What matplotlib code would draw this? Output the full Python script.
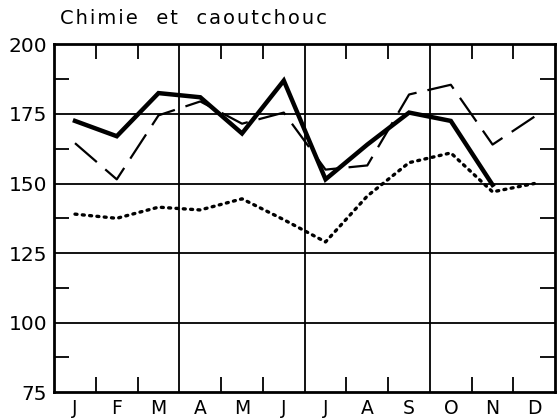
import matplotlib.pyplot as plt
import numpy as np

plt.rcParams["font.family"] = ["DejaVu Sans"]

months = ["J", "F", "M", "A", "M", "J", "J", "A", "S", "O", "N", "D"]
serie_epaisse = [172.5, 167, 182.5, 181, 168, 187, 151.5, 164, 175.5, 172.5, 149.5, np.nan]
serie_tirets = [164.5, 151.5, 174.5, 179.5, 171.5, 175.5, 155, 156.5, 182, 185.5, 164, 174]
serie_points = [139, 137.5, 141.5, 140.5, 144.5, 137, 129, 145.5, 157.5, 161, 147, 150]

x = np.arange(len(months)) + 0.5

fig = plt.figure(figsize=(5.58, 4.19), dpi=100)
ax = fig.add_axes([0.097, 0.064, 0.898, 0.830])

for v in [100, 125, 150, 175]:
    ax.axhline(v, color="black", lw=1.3, zorder=1)
for v in [3, 6, 9]:
    ax.axvline(v, color="black", lw=1.3, zorder=1)

ax.plot(x, serie_points, color="black", lw=2.4, linestyle=(0, (0.6, 1.6)),
        dash_capstyle="round", zorder=3)
ax.plot(x, serie_tirets, color="black", lw=1.6, linestyle=(0, (13, 5)), zorder=3)
ax.plot(x, serie_epaisse, color="black", lw=3.2, solid_joinstyle="miter", zorder=4)

ax.set_xlim(0, 12)
ax.set_ylim(75, 200)

ax.set_xticks([1, 2, 4, 5, 7, 8, 10, 11])
ax.set_xticks(x, minor=True)
ax.set_xticklabels([])
ax.set_xticklabels(months, minor=True)
ax.tick_params(axis="x", which="major", direction="in", length=11, width=1.3,
               top=True, bottom=True)
ax.tick_params(axis="x", which="minor", length=0, pad=5, labelsize=13.5)

ax.set_yticks([75, 100, 125, 150, 175, 200])
ax.set_yticks([87.5, 112.5, 137.5, 162.5, 187.5], minor=True)
ax.tick_params(axis="y", which="major", length=0, pad=5, labelsize=14.5)
ax.tick_params(axis="y", which="minor", direction="in", length=11, width=1.3,
               left=True, right=True)

for s in ax.spines.values():
    s.set_linewidth(2)

titre = "Chimie  et  caoutchouc"
titre_espace = "\u200a".join(titre)
fig.text(0.108, 0.955, titre_espace, fontsize=14, ha="left", va="center")

fig.savefig("out.png", dpi=100)
